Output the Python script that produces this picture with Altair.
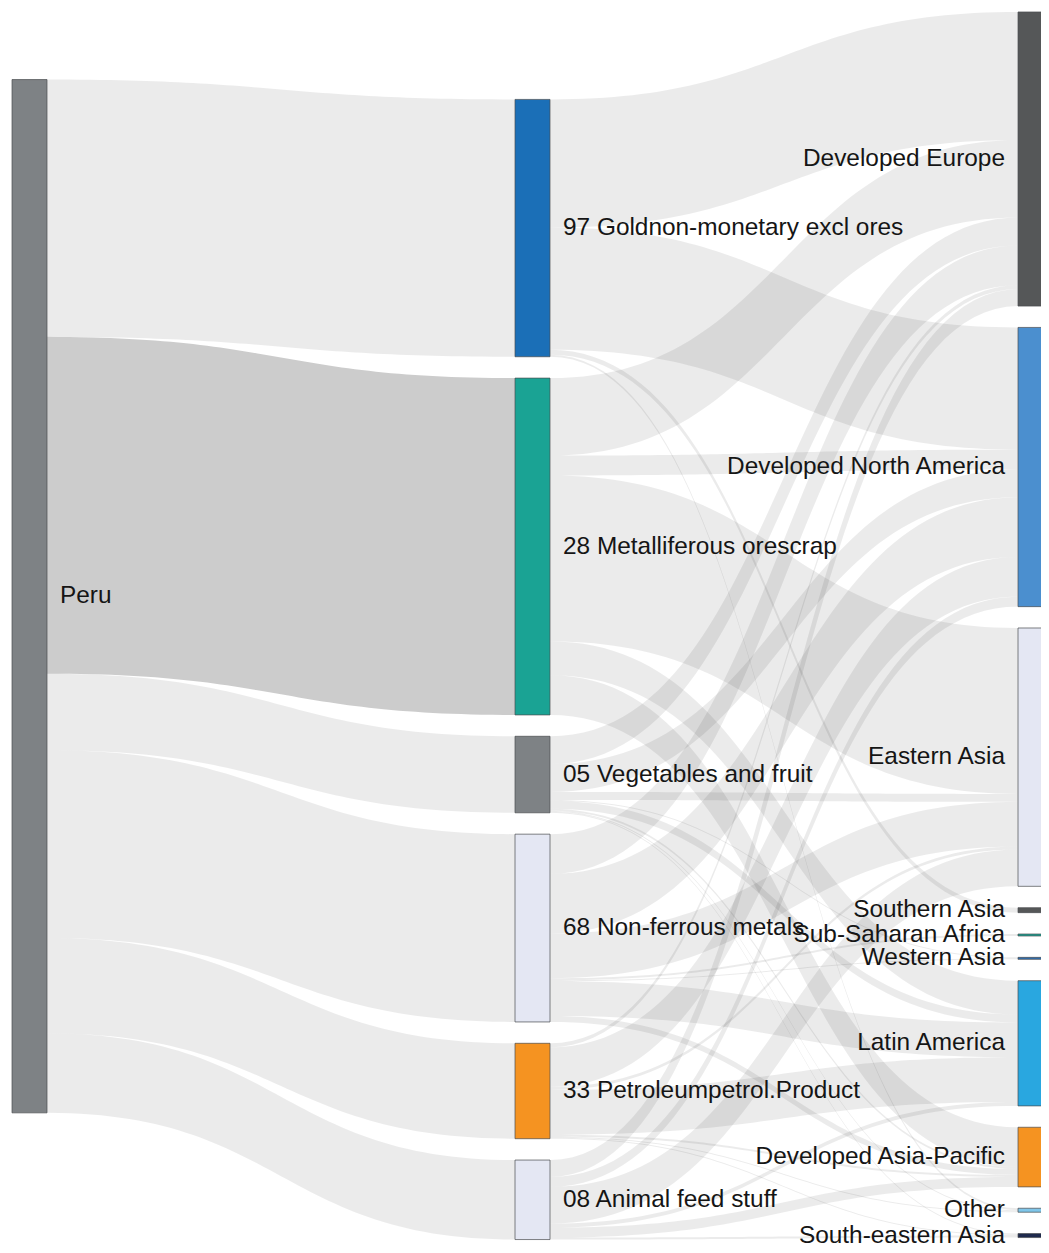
import altair as alt
import pandas as pd
import numpy as np

# ---------------- data ----------------
origin = ["Peru"]
products = [
    "97 Goldnon-monetary excl ores",
    "28 Metalliferous orescrap",
    "05 Vegetables and fruit",
    "68 Non-ferrous metals",
    "33 Petroleumpetrol.Product",
    "08 Animal feed stuff",
]
regions = [
    "Developed Europe",
    "Developed North America",
    "Eastern Asia",
    "Southern Asia",
    "Sub-Saharan Africa",
    "Western Asia",
    "Latin America",
    "Developed Asia-Pacific",
    "Other",
    "South-eastern Asia",
]

# flows product -> region (same order as `regions`)
gold_to = [129, 123, 0, 5, 0, 0, 0, 0, 2, 0]
ores_to = [78, 20, 167, 0, 0, 0, 34, 40, 0, 0]
veg_to = [28, 28, 8, 0, 0, 1, 8, 2, 1, 1]
nonfe_to = [40, 60, 45, 0, 2, 1, 35, 6, 0, 0]
petrol_to = [4, 40, 3, 0, 0, 0, 45, 2, 1, 1]
feed_to = [17, 10, 37, 0, 0, 0, 4, 10, 0, 2]
flows = [gold_to, ores_to, veg_to, nonfe_to, petrol_to, feed_to]

origin_colors = ["#7e8285"]
product_colors = ["#1b6fb7", "#1aa394", "#7e8285", "#e4e7f3", "#f59321", "#e4e7f3"]
region_colors = ["#555758", "#4b8fcf", "#e4e7f3", "#555758", "#1aa394",
                 "#2f6eb0", "#29a7e0", "#f59321", "#7fc6ea", "#1e2a4d"]

highlight_link = ("Peru", "28 Metalliferous orescrap")

# ---------------- layout parameters ----------------
COL_X = [12, 515, 1018]
NODE_W = 35
COL_TOP = [80, 100, 12]
PAD = 21.5
KY = 1.0
LABEL_GAP = 13

columns = [origin, products, regions]
prod_vals = [sum(r) for r in flows]
reg_vals = [sum(flows[i][j] for i in range(len(products))) for j in range(len(regions))]
col_vals = [[sum(prod_vals)], prod_vals, reg_vals]
col_colors = [origin_colors, product_colors, region_colors]

node_rows = []
node_pos = {}
for c, (names, vals, cols) in enumerate(zip(columns, col_vals, col_colors)):
    y = COL_TOP[c]
    for name, v, colr in zip(names, vals, cols):
        y0, y1 = y, y + v * KY
        node_pos[name] = (c, y0, y1)
        node_rows.append(dict(name=name, col=c, x0=COL_X[c], x1=COL_X[c] + NODE_W,
                              y0=y0, y1=y1, yc=(y0 + y1) / 2, color=colr))
        y = y1 + PAD
node_df = pd.DataFrame(node_rows)

# links
links = []
for i, p in enumerate(products):
    links.append(("Peru", p, prod_vals[i]))
for i, p in enumerate(products):
    for j, r in enumerate(regions):
        if flows[i][j] > 0:
            links.append((p, r, flows[i][j]))

order = {n: k for names in columns for k, n in enumerate(names)}
out_off = {n: node_pos[n][1] for n in node_pos}
in_off = {n: node_pos[n][1] for n in node_pos}
link_geo = {}
for s, t, v in sorted(links, key=lambda l: (order[l[0]], node_pos[l[0]][0], order[l[1]])):
    link_geo[(s, t)] = [out_off[s], out_off[s] + v * KY]
    out_off[s] += v * KY
for s, t, v in sorted(links, key=lambda l: (node_pos[l[1]][0], order[l[1]], order[l[0]])):
    link_geo[(s, t)] += [in_off[t], in_off[t] + v * KY]
    in_off[t] += v * KY

ts = np.linspace(0, 1, 61)
rows = []
for k, (s, t, v) in enumerate(links):
    sy0, sy1, ty0, ty1 = link_geo[(s, t)]
    xa = COL_X[node_pos[s][0]] + NODE_W
    xb = COL_X[node_pos[t][0]]
    xm = (xa + xb) / 2
    hl = (s, t) == highlight_link
    for tt in ts:
        a, b = (1 - tt), tt
        bx = a**3 * xa + 3 * a * a * b * xm + 3 * a * b * b * xm + b**3 * xb
        w0 = a**3 + 3 * a * a * b
        w1 = 3 * a * b * b + b**3
        rows.append(dict(lid="L%02d" % k, step=float(tt), px=float(bx),
                         ytop=float(w0 * sy0 + w1 * ty0),
                         ybot=float(w0 * sy1 + w1 * ty1), hl=bool(hl)))
link_df = pd.DataFrame(rows)
norm_df = link_df[~link_df["hl"]].drop(columns="hl")
hl_df = link_df[link_df["hl"]].drop(columns="hl")

label_rows_left, label_rows_right = [], []
for r in node_rows:
    if r["col"] < 2:
        label_rows_left.append(dict(name=r["name"], x=r["x1"] + LABEL_GAP, y=r["yc"]))
    else:
        label_rows_right.append(dict(name=r["name"], x=r["x0"] - LABEL_GAP, y=r["yc"]))
lab_l = pd.DataFrame(label_rows_left)
lab_r = pd.DataFrame(label_rows_right)

# ---------------- chart ----------------
xs = alt.Scale(domain=[8, 1041], nice=False, zero=False)
ys = alt.Scale(domain=[8, 1253], nice=False, zero=False, reverse=True)


def link_chart(df, opac):
    return alt.Chart(df).mark_area(
        fill="#000000", fillOpacity=opac, orient="vertical", interpolate="linear"
    ).encode(
        x=alt.X("px:Q", scale=xs, axis=None),
        y=alt.Y("ytop:Q", scale=ys, axis=None),
        y2="ybot:Q",
        detail="lid:N",
    )


link_layer = link_chart(norm_df, 0.08)
hl_layer = link_chart(hl_df, 0.2)

node_layer = alt.Chart(node_df).mark_rect(
    stroke="#4a4d50", strokeWidth=1, strokeOpacity=0.7, clip=True
).encode(
    x=alt.X("x0:Q", scale=xs, axis=None),
    x2="x1:Q",
    y=alt.Y("y0:Q", scale=ys, axis=None),
    y2="y1:Q",
    fill=alt.Fill("color:N", scale=None),
)

text_props = dict(baseline="middle", font="Liberation Sans", fontSize=24.4, color="#151515")
left_text = alt.Chart(lab_l).mark_text(align="left", **text_props).encode(
    x=alt.X("x:Q", scale=xs, axis=None),
    y=alt.Y("y:Q", scale=ys, axis=None),
    text="name:N",
)
right_text = alt.Chart(lab_r).mark_text(align="right", **text_props).encode(
    x=alt.X("x:Q", scale=xs, axis=None),
    y=alt.Y("y:Q", scale=ys, axis=None),
    text="name:N",
)

chart = alt.layer(link_layer, hl_layer, node_layer, left_text, right_text).properties(
    width=1033,
    height=1237,
    padding=0,
    autosize=alt.AutoSizeParams(type="none"),
    background="white",
).configure_view(stroke=None)

chart.save("out.html", embed_options={"renderer": "svg", "actions": False})
